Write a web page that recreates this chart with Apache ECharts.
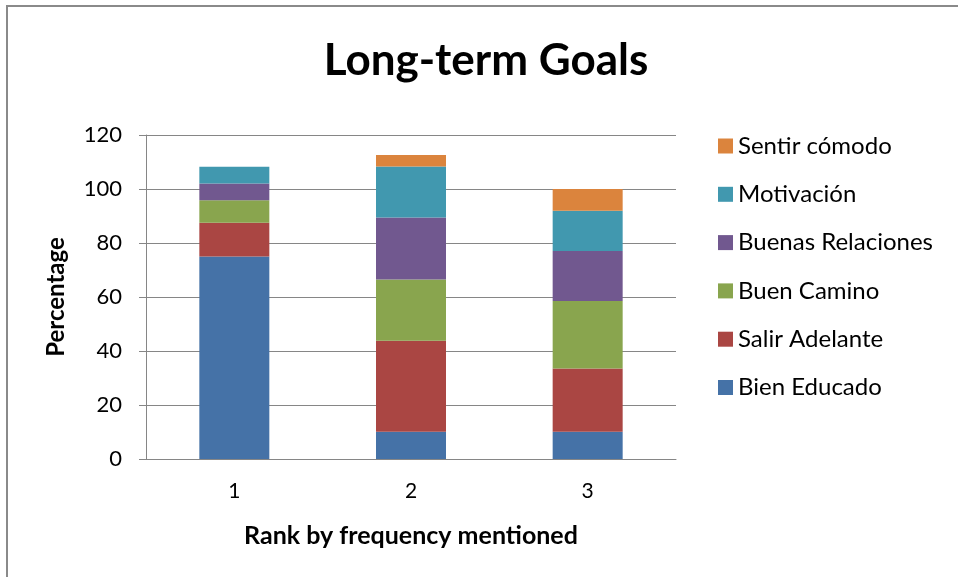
<!DOCTYPE html>
<html>
<head>
<meta charset="utf-8">
<script src="https://cdn.jsdelivr.net/npm/echarts@6/dist/echarts.min.js"></script>
<style>
  html, body { margin: 0; padding: 0; background: #fff; }
  #chart { width: 958px; height: 577px; }
</style>
</head>
<body>
<div id="chart"></div>
<script>
// Rank categories on the x axis
const ranks = ['1', '2', '3'];

// Stacked shares (percent) per goal, bottom to top
const bienEducado      = [75.0, 10.1, 10.1];
const salirAdelante    = [12.5, 33.7, 23.4];
const buenCamino       = [8.3, 22.7, 25.0];
const buenasRelaciones = [6.2, 22.9, 18.5];
const motivacion       = [6.2, 18.9, 14.9];
const sentirComodo     = [0, 4.3, 8.1];

const yTicks = [0, 20, 40, 60, 80, 100, 120];

const FONT = 'Lato, "Open Sans", sans-serif';

const seriesDefs = [
  { name: 'Bien Educado', data: bienEducado, color: '#4572a7' },
  { name: 'Salir Adelante', data: salirAdelante, color: '#aa4643' },
  { name: 'Buen Camino', data: buenCamino, color: '#89a54e' },
  { name: 'Buenas Relaciones', data: buenasRelaciones, color: '#71588f' },
  { name: 'Motivación', data: motivacion, color: '#4198af' },
  { name: 'Sentir cómodo', data: sentirComodo, color: '#db843d' }
];

const chart = echarts.init(document.getElementById('chart'), null, { renderer: 'canvas' });

chart.setOption({
  backgroundColor: '#ffffff',
  animation: false,
  title: {
    text: 'Long-term Goals',
    left: 481,
    top: 34,
    textAlign: 'center',
    textStyle: { fontFamily: FONT, fontWeight: 'bold', fontSize: 44, color: '#000' }
  },
  graphic: [
    { type: 'line', shape: { x1: 6, y1: 6, x2: 958, y2: 6 }, style: { stroke: '#8a8a8a', lineWidth: 2 } },
    { type: 'line', shape: { x1: 7, y1: 5, x2: 7, y2: 577 }, style: { stroke: '#8a8a8a', lineWidth: 2 } }
  ],
  legend: {
    orient: 'vertical',
    left: 713,
    top: 129,
    itemWidth: 15,
    itemHeight: 15,
    itemGap: 24.3,
    icon: 'rect',
    data: seriesDefs.map(s => s.name).reverse(),
    textStyle: { fontFamily: FONT, fontSize: 24, lineHeight: 20, color: '#000', padding: [0, 0, 0, 0] }
  },
  grid: { left: 146, top: 135, width: 530, height: 324 },
  xAxis: {
    type: 'category',
    data: ranks,
    name: 'Rank by frequency mentioned',
    nameLocation: 'middle',
    nameGap: 64,
    nameTextStyle: { fontFamily: FONT, fontWeight: 'bold', fontSize: 25, color: '#000' },
    axisLine: { lineStyle: { color: '#868686', width: 1 } },
    axisTick: { length: 8, lineStyle: { color: '#868686' } },
    axisLabel: { fontFamily: FONT, fontSize: 21, color: '#000', margin: 22 }
  },
  yAxis: {
    type: 'value',
    min: 0,
    max: 120,
    interval: 20,
    name: 'Percentage',
    nameLocation: 'middle',
    nameGap: 78,
    nameRotate: 90,
    nameTextStyle: { fontFamily: FONT, fontWeight: 'bold', fontSize: 24, color: '#000' },
    axisLine: { show: true, lineStyle: { color: '#868686', width: 1 } },
    axisTick: { show: true, length: 7, lineStyle: { color: '#868686' } },
    axisLabel: {
      fontFamily: FONT, fontSize: 22, color: '#000', margin: 24,
      formatter: v => (yTicks.indexOf(v) >= 0 ? String(v) : '')
    },
    splitLine: { lineStyle: { color: '#868686', width: 1 } }
  },
  series: seriesDefs.map(s => ({
    name: s.name,
    type: 'bar',
    stack: 'total',
    data: s.data,
    barWidth: 70,
    itemStyle: { color: s.color },
    emphasis: { disabled: true }
  }))
});
</script>
</body>
</html>
